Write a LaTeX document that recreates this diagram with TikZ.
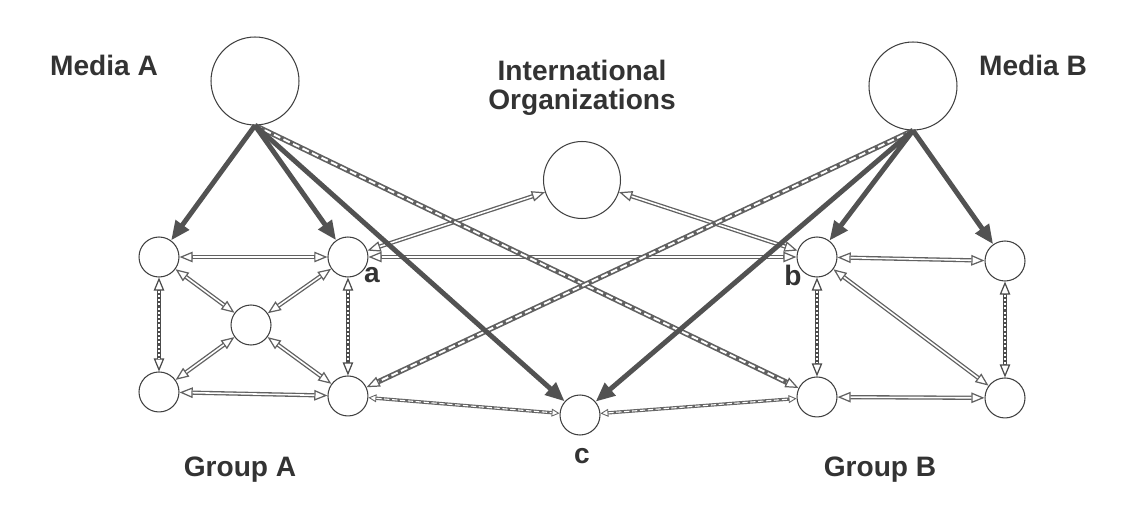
\documentclass[tikz,border=0pt]{standalone}
\usepackage{fontspec}
\setmainfont{Liberation Sans}
\usetikzlibrary{arrows.meta, positioning}

\tikzset{
HollowTip/.tip={Triangle[open, fill=white, length=7.5pt, width=6pt, line width=0.7pt]},
SmallTip/.tip={Triangle[open, fill=white, length=4.5pt, width=4.5pt, line width=0.5pt]}
}

\begin{document}
\begin{tikzpicture}[
x=0.02cm, y=-0.02cm,
on grid,
agent/.style={circle, draw=black!75, line width=0.6pt, minimum size=0.8cm, inner sep=0pt},
media/.style={agent, minimum size=1.76cm},
org/.style={agent, minimum size=1.54cm},
tag/.style={font=\fontsize{16}{16.5}\selectfont\bfseries, text=black!80, inner sep=0pt},
infl/.style={-{Triangle[length=11pt, width=9pt]}, line width=2.8pt, draw=black!68},
tie/.style={HollowTip-HollowTip, line width=2.4pt, draw=black!62,
  postaction={draw=white, arrows=-, line width=0.9pt, shorten <=7.5pt, shorten >=7.5pt}},
vtie/.style={HollowTip-HollowTip, line width=2.6pt, draw=black!70,
  postaction={draw=white, arrows=-, line width=0.7pt, dash pattern=on 1.2pt off 1.2pt, shorten <=7.5pt, shorten >=7.5pt}},
dlink/.style={-HollowTip, line width=3pt, draw=black!62,
  postaction={draw=white, arrows=-, line width=1.1pt, dash pattern=on 4pt off 2pt, shorten >=7.5pt}},
ctie/.style={SmallTip-SmallTip, line width=1.9pt, draw=black!60,
  postaction={draw=white, arrows=-, line width=0.6pt, dash pattern=on 3pt off 1.5pt, shorten <=4.5pt, shorten >=4.5pt}}
]
\useasboundingbox (0,0) rectangle (1127,517);

\node[media] (ma) at (255,81) {};
\node[media] (mb) at (913,86) {};
\node[org] (io) at (582,180) {};
\node[agent] (c) at (580,415) {};

\node[agent] (ga1) at (159,257) {};
\node[agent, right=3.78cm of ga1] (ga2) {};
\node[agent, below=2.7cm of ga1] (ga4) {};
\node[agent, below=2.78cm of ga2] (ga5) {};
\node[agent] (ga3) at (251,325) {};

\node[agent] (gb1) at (817,257) {};
\node[agent] (gb2) at (1005,261) {};
\node[agent, below=2.8cm of gb1] (gb3) {};
\node[agent, below=2.74cm of gb2] (gb4) {};

\node[tag, anchor=base] (tma) at (104,76) {Media A};
\node[tag, anchor=base] (tmb) at (1033,76) {Media B};
\node[tag, align=center] (tio) at (582,88) {International\\Organizations};
\node[tag, anchor=base] (tga) at (240,476) {Group A};
\node[tag, anchor=base] (tgb) at (880,476) {Group B};
\node[tag, anchor=base] (ta) at (372,282) {a};
\node[tag, anchor=base] (tb) at (793,285) {b};
\node[tag, anchor=base] (tc) at (582,463) {c};

\draw[tie] (ga1) -- (ga2);
\draw[tie] (ga1) -- (ga3);
\draw[tie] (ga2) -- (ga3);
\draw[tie] (ga3) -- (ga4);
\draw[tie] (ga3) -- (ga5);
\draw[tie] (ga4) -- (ga5);
\draw[vtie] (ga1) -- (ga4);
\draw[vtie] (ga2) -- (ga5);

\draw[tie] (gb1) -- (gb2);
\draw[tie] (gb3) -- (gb4);
\draw[tie] (gb1) -- (gb4);
\draw[vtie] (gb1) -- (gb3);
\draw[vtie] (gb2) -- (gb4);

\draw[tie] (ga2) -- (io);
\draw[tie] (gb1) -- (io);
\draw[tie] (ga2) -- (gb1);
\draw[ctie] (ga5) -- (c);
\draw[ctie] (c) -- (gb3);

\draw[dlink] (ma.south) -- (gb3);
\draw[dlink] (mb.south) -- (ga5);

\draw[infl] (ma.south) -- (ga1);
\draw[infl] (ma.south) -- (ga2);
\draw[infl] (ma.south) -- (c);
\draw[infl] (mb.south) -- (gb1);
\draw[infl] (mb.south) -- (gb2);
\draw[infl] (mb.south) -- (c);

\end{tikzpicture}
\end{document}
